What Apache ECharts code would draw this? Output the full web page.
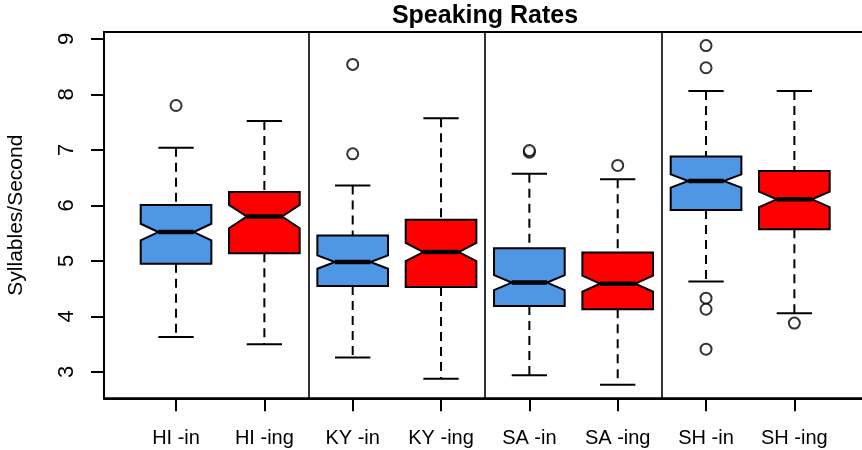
<!DOCTYPE html>
<html>
<head>
<meta charset="utf-8">
<script src="https://cdn.jsdelivr.net/npm/echarts@6/dist/echarts.min.js"></script>
<style>
  html, body { margin: 0; padding: 0; background: #fff; }
  #chart { width: 862px; height: 450px; }
</style>
</head>
<body>
<div id="chart"></div>
<script>
// Speaking-rate distributions (syllables per second) by region and variant
const categories = ['HI -in', 'HI -ing', 'KY -in', 'KY -ing', 'SA -in', 'SA -ing', 'SH -in', 'SH -ing'];
const whiskerLow  = [3.63, 3.50, 3.26, 2.88, 2.94, 2.77, 4.63, 4.06];
const quartile1   = [4.95, 5.14, 4.55, 4.53, 4.19, 4.13, 5.92, 5.57];
const medians     = [5.52, 5.80, 4.98, 5.16, 4.61, 4.59, 6.44, 6.11];
const quartile3   = [6.01, 6.24, 5.46, 5.74, 5.23, 5.15, 6.88, 6.62];
const whiskerHigh = [7.04, 7.52, 6.36, 7.57, 6.57, 6.47, 8.06, 8.06];
// half-height of the notch around each median
const notchHalf   = [0.15, 0.21, 0.12, 0.165, 0.135, 0.145, 0.12, 0.14];
const outliers = [
  [7.80],
  [],
  [8.54, 6.93],
  [],
  [6.96, 6.99],
  [6.72],
  [8.88, 8.48, 4.33, 4.13, 3.41],
  [3.88]
];
const yTicks = [3, 4, 5, 6, 7, 8, 9];
const groupBreaks = [2.5, 4.5, 6.5];
const boxColors = ['#4F97E5', '#FF0000'];

const positions = categories.map((_, i) => i + 1);
const boxData = positions.map((p, i) => [p, whiskerLow[i], quartile1[i], medians[i], quartile3[i], whiskerHigh[i], notchHalf[i]]);
const outlierData = [];
outliers.forEach((list, i) => list.forEach(v => outlierData.push([positions[i], v])));

const FONT = "'Liberation Sans', Arial, Helvetica, sans-serif";
const HALF_W = 0.4;   // box half width in axis units
const CAP_W = 0.2;    // whisker cap half width

function renderBox(params, api) {
  const x = api.value(0), lo = api.value(1), q1 = api.value(2), med = api.value(3),
        q3 = api.value(4), hi = api.value(5), nh = api.value(6);
  const P = (xx, yy) => api.coord([xx, yy]);
  const color = boxColors[params.dataIndex % 2];
  const poly = [
    P(x - HALF_W, q1), P(x - HALF_W, med - nh), P(x - HALF_W / 2, med), P(x - HALF_W, med + nh),
    P(x - HALF_W, q3), P(x + HALF_W, q3), P(x + HALF_W, med + nh), P(x + HALF_W / 2, med),
    P(x + HALF_W, med - nh), P(x + HALF_W, q1)
  ];
  const dash = { stroke: '#000', lineWidth: 2, lineDash: [9, 6] };
  const solid = { stroke: '#000', lineWidth: 2 };
  const seg = (a, b, style) => ({ type: 'line', shape: { x1: a[0], y1: a[1], x2: b[0], y2: b[1] }, style });
  return {
    type: 'group',
    children: [
      seg(P(x, hi), P(x, q3), dash),
      seg(P(x, q1), P(x, lo), dash),
      seg(P(x - CAP_W, hi), P(x + CAP_W, hi), solid),
      seg(P(x - CAP_W, lo), P(x + CAP_W, lo), solid),
      { type: 'polygon', shape: { points: poly }, style: { fill: color, stroke: '#000', lineWidth: 2 } },
      seg(P(x - HALF_W / 2, med), P(x + HALF_W / 2, med), { stroke: '#000', lineWidth: 4.5 })
    ]
  };
}

const chart = echarts.init(document.getElementById('chart'), null, { renderer: 'canvas' });
chart.setOption({
  animation: false,
  backgroundColor: '#fff',
  title: {
    text: 'Speaking Rates',
    left: 485, top: 4, textAlign: 'center', padding: 0,
    textStyle: { fontFamily: FONT, fontSize: 25, fontWeight: 'bold', color: '#000' }
  },
  grid: {
    left: 104, top: 32, bottom: 51.7, right: -4.4,
    outerBoundsMode: 'none',
    show: true, borderColor: '#000', borderWidth: 2, backgroundColor: 'transparent'
  },
  xAxis: {
    type: 'value', min: 0.1845, max: 8.8155,
    splitLine: { show: false },
    axisLine: { show: true, onZero: false, lineStyle: { color: '#000', width: 2 } },
    axisTick: { show: true, length: 13, lineStyle: { color: '#000', width: 2 }, customValues: positions },
    axisLabel: {
      customValues: positions, margin: 30,
      formatter: v => categories[Math.round(v) - 1] || '',
      fontFamily: FONT, fontSize: 20, color: '#000'
    }
  },
  yAxis: {
    type: 'value', min: 2.5256, max: 9.1244,
    name: 'Syllables/Second', nameLocation: 'middle', nameRotate: 90, nameGap: 77,
    nameTextStyle: { fontFamily: FONT, fontSize: 21, color: '#000' },
    splitLine: { show: false },
    axisLine: { show: true, lineStyle: { color: '#000', width: 2 } },
    axisTick: { show: true, length: 13, lineStyle: { color: '#000', width: 2 }, customValues: yTicks },
    axisLabel: {
      customValues: yTicks, rotate: 90, margin: 26,
      fontFamily: FONT, fontSize: 22, color: '#000'
    }
  },
  series: [
    {
      type: 'custom',
      renderItem: renderBox,
      data: boxData,
      encode: { x: 0, y: [1, 2, 3, 4, 5] },
      z: 3,
      markLine: {
        silent: true, symbol: 'none', label: { show: false },
        lineStyle: { color: '#000', width: 1.6, type: 'solid' },
        data: groupBreaks.map(v => ({ xAxis: v }))
      }
    },
    {
      type: 'scatter',
      data: outlierData,
      symbol: 'circle', symbolSize: 11,
      itemStyle: { color: '#fff', borderColor: '#000', borderWidth: 2 },
      z: 4
    }
  ]
});
</script>
</body>
</html>
